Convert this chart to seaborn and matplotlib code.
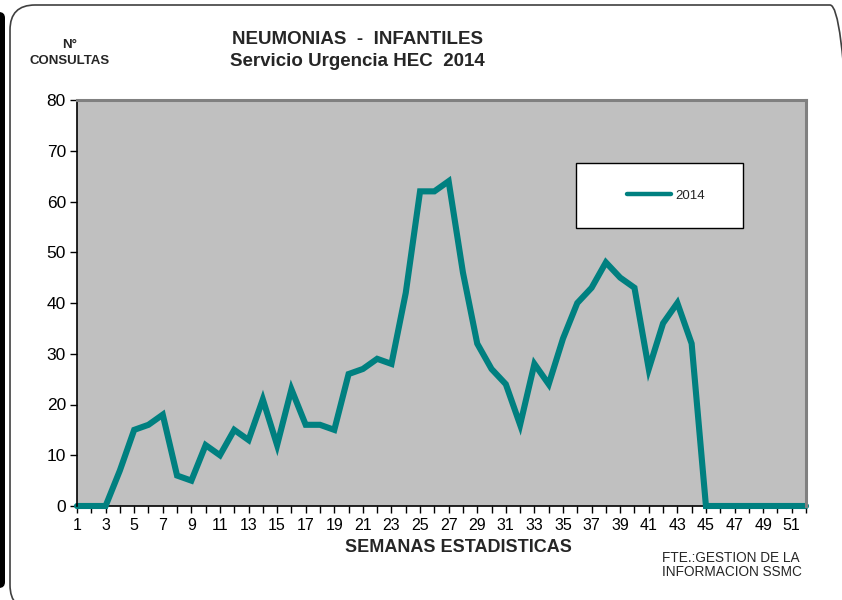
import matplotlib
matplotlib.use("Agg")
import matplotlib.pyplot as plt
from matplotlib.patches import FancyBboxPatch, Rectangle
from matplotlib.transforms import IdentityTransform
import pandas as pd
import seaborn as sns

# Weekly pneumonia consultations, 2014
semanas = list(range(1, 53))
consultas_2014 = [0, 0, 0, 7, 15, 16, 18, 6, 5, 12,
                  10, 15, 13, 21, 12, 23, 16, 16, 15, 26,
                  27, 29, 28, 42, 62, 62, 64, 46, 32, 27,
                  24, 16, 28, 24, 33, 40, 43, 48, 45, 43,
                  27, 36, 40, 32, 0, 0, 0, 0, 0, 0,
                  0, 0]
serie = "2014"
y_ticks = [0, 10, 20, 30, 40, 50, 60, 70, 80]

df = pd.DataFrame({"semana": semanas, "consultas": consultas_2014, "serie": serie})

sns.set_theme(style="white")
plt.rcParams["font.family"] = ["Liberation Sans", "DejaVu Sans"]

W, H = 842, 600
fig = plt.figure(figsize=(W / 100, H / 100), dpi=100)
fig.patch.set_facecolor("white")

# outer rounded frame and dark edge on the left
ident = IdentityTransform()
frame = FancyBboxPatch((10 + 25, -10 + 25), 855 - 10 - 50, 595 + 10 - 50,
                       boxstyle="round,pad=25", transform=ident,
                       facecolor="none", edgecolor="#404040", linewidth=1.2)
fig.add_artist(frame)
bar = FancyBboxPatch((-20 + 6, 12 + 6), 25 - 12, 576 - 12,
                     boxstyle="round,pad=6", transform=ident,
                     facecolor="black", edgecolor="black", linewidth=0)
fig.add_artist(bar)

ax = fig.add_axes([77 / W, 1 - 506 / H, (806 - 77) / W, (506 - 100) / H])
ax.set_facecolor("#C0C0C0")

sns.lineplot(data=df, x="semana", y="consultas", hue="serie",
             palette={serie: "#008080"}, linewidth=4.4, ax=ax,
             legend=True, solid_joinstyle="miter", clip_on=False)

ax.set_xlim(1, 52)
ax.set_ylim(0, 80)
ax.set_yticks(y_ticks)
ax.set_yticklabels([str(v) for v in y_ticks], fontsize=12.5, color="black")
ax.set_xticks(semanas)
ax.set_xticklabels([str(s) if s % 2 == 1 else "" for s in semanas],
                   fontsize=11.5, color="black")
ax.tick_params(axis="both", direction="out", length=5, width=1, colors="black",
               bottom=True, left=True)
ax.tick_params(axis="x", pad=4)
ax.tick_params(axis="y", pad=3)
ax.set_xlabel("")
ax.set_ylabel("")

for side in ["left", "bottom"]:
    ax.spines[side].set_color("black")
    ax.spines[side].set_linewidth(1.2)
for side in ["top", "right"]:
    ax.spines[side].set_color("#808080")
    ax.spines[side].set_linewidth(2.2)
ax.spines["bottom"].set_zorder(0.5)

# legend inside a white box
box = Rectangle((0.6845, 0.6847), 0.2291, 0.1601, transform=ax.transAxes,
                facecolor="white", edgecolor="black", linewidth=1, zorder=3)
ax.add_patch(box)
handles, labels = ax.get_legend_handles_labels()
for h in handles:
    h.set_linewidth(3.2)
leg = ax.legend(handles, labels, loc="center", bbox_to_anchor=(0.808, 0.765),
                frameon=False, fontsize=9.5, handlelength=3.3, handletextpad=0.3)
leg.set_zorder(4)

fig.text(357 / W, 1 - 40 / H, "NEUMONIAS  -  INFANTILES", ha="center",
         va="center", fontsize=13.5, fontweight="bold")
fig.text(357 / W, 1 - 61 / H, "Servicio Urgencia HEC  2014", ha="center",
         va="center", fontsize=13.5, fontweight="bold")
fig.text(70 / W, 1 - 45 / H, "N°", ha="center", va="center",
         fontsize=9.5, fontweight="bold")
fig.text(70 / W, 1 - 61 / H, "CONSULTAS", ha="center", va="center",
         fontsize=9.5, fontweight="bold")
fig.text(458 / W, 1 - 548 / H, "SEMANAS ESTADISTICAS", ha="center", va="center",
         fontsize=13, fontweight="bold")
fig.text(662 / W, 1 - 565 / H, "FTE.:GESTION DE LA\nINFORMACION SSMC",
         ha="left", va="center", fontsize=9.8, linespacing=1.05)

fig.savefig("out.png", dpi=100)
